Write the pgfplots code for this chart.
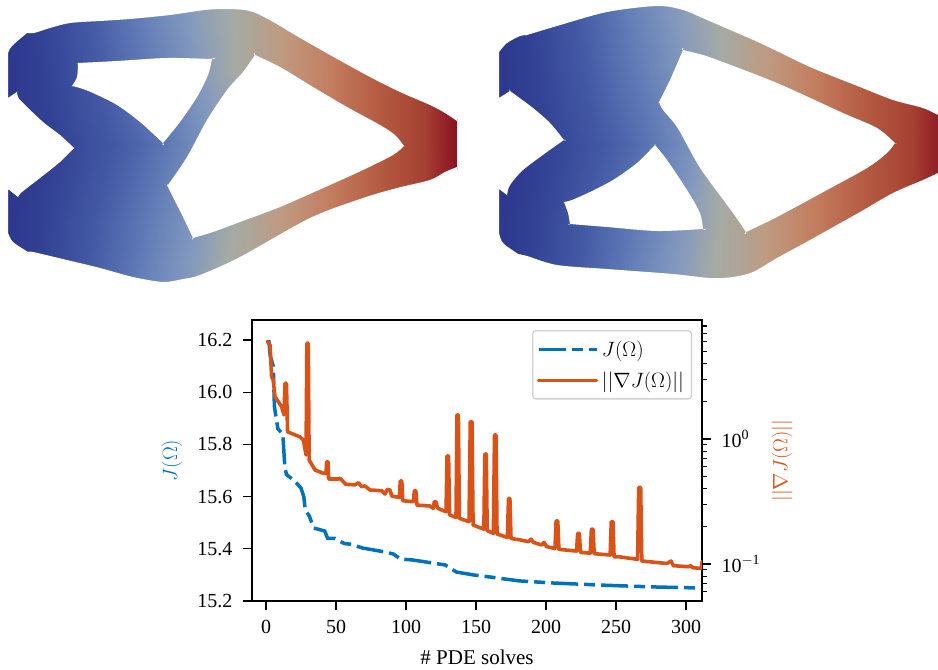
\documentclass[border=0pt]{standalone}
\usepackage{fontspec}
\setmainfont{Liberation Serif}
\usepackage{pgfplots}
\pgfplotsset{compat=1.18}
\definecolor{jblue}{HTML}{0072BD}
\definecolor{jorange}{HTML}{D95319}
\begin{document}
\begin{tikzpicture}[x=1pt,y=1pt]
\useasboundingbox (0,0) rectangle (938pt,670pt);
% the two optimised shapes, in pixel coordinates
\begin{axis}[at={(0pt,0pt)},anchor=south west,scale only axis,width=938pt,height=670pt,
  xmin=0,xmax=938,ymin=0,ymax=670,y dir=reverse,axis lines=none,clip=false,
  colormap={field}{rgb(0pt)=(.169,.212,.549); rgb(8pt)=(.169,.212,.549); rgb(50pt)=(.204,.263,.588); rgb(100pt)=(.267,.353,.647); rgb(150pt)=(.373,.478,.714); rgb(200pt)=(.51,.596,.745); rgb(235pt)=(.647,.667,.647); rgb(280pt)=(.745,.608,.51); rgb(330pt)=(.765,.49,.373); rgb(380pt)=(.706,.353,.255); rgb(420pt)=(.647,.255,.196); rgb(457pt)=(.53,.04,.118)},
  point meta min=0,point meta max=457]
\addplot[surf,shader=interp,mesh/cols=8,point meta=explicit,forget plot] table[meta=c] {
x y c
4 -2 8
50 -2 60
100 -2 115
150 -2 170
200 -2 215
250 -2 250
350 -2 350
462 -2 457
4 70 8
50 70 52
100 70 103
150 70 154
200 70 203
250 70 250
350 70 350
462 70 457
4 145 8
50 145 40
100 145 85
150 145 130
200 145 185
250 145 250
350 145 350
462 145 457
4 220 8
50 220 52
100 220 103
150 220 154
200 220 203
250 220 250
350 220 350
462 220 457
4 297 8
50 297 60
100 297 115
150 297 170
200 297 215
250 297 250
350 297 350
462 297 457
};
\addplot[surf,shader=interp,mesh/cols=8,point meta=explicit,forget plot] table[meta=c] {
x y c
494 -2 8
540 -2 60
589 -2 115
638 -2 170
687 -2 215
736 -2 250
834 -2 350
943 -2 448
494 70 8
540 70 52
589 70 103
638 70 154
687 70 203
736 70 250
834 70 350
943 70 448
494 145 8
540 145 40
589 145 85
638 145 130
687 145 185
736 145 250
834 145 350
943 145 448
494 220 8
540 220 52
589 220 103
638 220 154
687 220 203
736 220 250
834 220 350
943 220 448
494 297 8
540 297 60
589 297 115
638 297 170
687 297 215
736 297 250
834 297 350
943 297 448
};
% white outside the first shape
\addplot[fill=white,draw=none,even odd rule,forget plot,smooth,tension=0.5] coordinates {
(8,53)(8,53)(12,46)(27,33)(27,33)(34,33)(50,28)(70,23)(100,21)(130,19)(170,15)(205,10)(225,9)(245,10)(258,14)(275,23)(295,35)(330,55)(370,77)(400,92)(430,105)(445,113)(457,121)(457,121)(457,167)(457,167)(445,172)(430,180)(397,188)(363,198)(310,218)(240,257)(200,275)(183,279)(163,282)(133,277)(100,268)(67,260)(33,252)(28,252)(28,252)(13,242)(8,233)(8,233)(8,189)(8,189)(18,197)(18,197)(22,192)(40,178)(60,162)(74,148)(74,148)(60,135)(43,122)(23,103)(18,97)(17,92)(17,92)(8,98)(8,98)} -- cycle (axis cs:0,-4) rectangle (axis cs:470,299);
\addplot[fill=white,draw=none,forget plot,smooth,tension=0.5] coordinates {
(78,63)(78,63)(117,61)(167,58)(212,59)(212,59)(208,75)(197,97)(180,122)(163,143)(163,143)(140,122)(117,105)(93,93)(80,88)(72,86)(72,86)(77,77)(78,63)(78,63)} -- cycle;
\addplot[fill=white,draw=none,forget plot,smooth,tension=0.5] coordinates {
(168,185)(168,185)(187,157)(207,120)(227,90)(243,72)(255,55)(255,55)(280,67)(313,87)(347,107)(380,125)(395,135)(404,146)(404,146)(393,155)(363,170)(330,185)(280,207)(240,222)(213,232)(193,238)(193,238)(183,217)(168,187)(168,185)} -- cycle;
% white outside the second shape
\addplot[fill=white,draw=none,even odd rule,forget plot,smooth,tension=0.5] coordinates {
(499,52)(499,52)(507,43)(520,36)(527,35)(527,35)(557,26)(607,12)(657,6)(683,10)(707,20)(760,43)(810,67)(860,87)(893,100)(923,108)(938,115)(938,115)(938,173)(938,173)(923,180)(893,193)(860,212)(810,240)(777,258)(753,272)(733,277)(710,278)(673,274)(607,269)(557,265)(527,256)(518,254)(518,254)(503,243)(499,233)(499,233)(499,189)(499,189)(507,195)(507,195)(510,185)(523,170)(547,152)(564,140)(564,140)(550,123)(533,108)(510,91)(510,91)(499,98)(499,98)} -- cycle (axis cs:485,-4) rectangle (axis cs:948,299);
\addplot[fill=white,draw=none,forget plot,smooth,tension=0.5] coordinates {
(659,102)(659,102)(670,80)(683,50)(683,50)(703,55)(720,61)(777,83)(843,113)(877,128)(895,143)(895,143)(887,153)(867,168)(827,190)(777,217)(746,232)(746,232)(733,213)(710,182)(697,163)(677,127)(663,110)(659,102)(659,102)} -- cycle;
\addplot[fill=white,draw=none,forget plot,smooth,tension=0.5] coordinates {
(655,145)(655,145)(637,163)(613,180)(590,192)(572,200)(564,202)(564,202)(568,213)(570,224)(570,224)(607,227)(657,231)(703,229)(703,229)(700,213)(687,190)(667,160)(655,145)(655,145)} -- cycle;
\end{axis}
% J on the left axis
\begin{axis}[at={(252pt,69pt)},anchor=south west,scale only axis,width=450pt,height=281pt,
  xmin=-10,xmax=311.4,ymin=15.2,ymax=16.277,
  xtick={0,50,...,300},ytick={15.2,15.4,...,16.2},
  xtick pos=bottom,ytick pos=left,
  /pgf/number format/assume math mode=true,
  yticklabel style={xshift=-7pt,/pgf/number format/fixed,/pgf/number format/fixed zerofill,/pgf/number format/precision=1},
  axis line style={line width=1.6pt},
  tick style={line width=1.2pt,black},major tick length=9pt,tick align=outside,
  ticklabel style={font=\fontsize{20}{23}\selectfont},
  xticklabel style={yshift=-7pt},
  xlabel={\# PDE solves},
  xlabel style={font=\fontsize{21}{24}\selectfont,at={(axis description cs:0.5,-0.2)},anchor=center},
  ylabel={$J(\Omega)$},
  ylabel style={font=\fontsize{22}{24}\selectfont,text=jblue,at={(axis description cs:-0.178,0.5)},anchor=center},
  ]
\addplot[jblue,line width=3.5pt,dash pattern=on 27pt off 6pt on 11pt off 6pt] coordinates {
(2,16.2)(3,16.14)(5.2,16.10)(6,15.945)(7,15.91)(8.5,15.86)(12,15.84)(13.5,15.71)(14.7,15.684)(20.5,15.66)(25,15.633)(27,15.60)(28,15.55)(31,15.525)(34,15.48)(42,15.468)(44,15.44)(49,15.44)(56,15.42)(60,15.418)(69,15.403)(85,15.388)(91,15.38)(96,15.361)(105,15.357)(118.5,15.346)(128,15.338)(136,15.311)(148,15.30)(160,15.292)(171,15.284)(181,15.277)(205,15.269)(239,15.261)(276,15.254)(308,15.25)};
\end{axis}
% gradient norm on the right axis
\begin{axis}[at={(252pt,69pt)},anchor=south west,scale only axis,width=450pt,height=281pt,
  xmin=-10,xmax=311.4,ymode=log,ymin=0.0506,ymax=8.95,
  hide x axis,ytick pos=right,yticklabel pos=right,
  ytick={0.1,1},yticklabels={10\textsuperscript{$-$1},10\textsuperscript{0}},
  minor ytick={0.06,0.07,0.08,0.09,0.2,0.3,0.4,0.5,0.6,0.7,0.8,0.9,2,3,4,5,6,7,8},
  axis line style={line width=1.6pt},
  tick style={line width=1.2pt,black},major tick length=9pt,minor tick length=5pt,tick align=outside,
  ticklabel style={font=\fontsize{20}{23}\selectfont},
  yticklabel style={xshift=7pt},
  ylabel={$||\nabla J(\Omega)||$},
  ylabel style={font=\fontsize{22}{24}\selectfont,text=jorange,at={(axis description cs:1.178,0.5)},anchor=center},
  legend style={at={(rel axis cs:0.978,0.964)},anchor=north east,draw=black!18,line width=1.3pt,rounded corners=3pt,
    font=\fontsize{22}{26}\selectfont,inner xsep=4pt,inner ysep=8pt,row sep=10pt,
    nodes={inner xsep=3.5pt}},
  legend cell align=left,
  legend image code/.code={\draw[#1] (0pt,0pt) -- (46pt,0pt);\path (0pt,0pt) -- (58pt,0pt);},
  ]
\addlegendimage{jblue,line width=3.5pt,dash pattern=on 27pt off 6pt on 11pt off 6pt}
\addlegendentry{$J(\Omega)$}
\addplot[jorange,line width=3.6pt,line join=round,line cap=round] coordinates {
(1,6.0)(2.9,5.65)(4,3.15)(5.2,2.96)(6.4,2.18)(11.2,1.81)(12.8,1.56)(13.6,2.79)(14.6,2.79)(15.4,1.14)(24.3,1.04)(26.7,0.98)(28.6,0.745)(29.2,5.83)(30.2,5.83)(30.8,0.68)(35,0.565)(41,0.532)(42.9,0.532)(43.3,0.658)(44.3,0.658)(44.7,0.479)(51.7,0.479)(52.9,0.485)(57,0.434)(63.6,0.43)(66,0.447)(68.3,0.416)(70.7,0.421)(74.3,0.391)(82.6,0.386)(85,0.363)(86.7,0.396)(88.6,0.39)(89.8,0.35)(95.2,0.341)(95.9,0.461)(97,0.461)(97.7,0.321)(105.2,0.315)(106,0.386)(107,0.386)(107.8,0.296)(117,0.291)(119.5,0.279)(120.2,0.315)(121.4,0.315)(122.6,0.279)(128.6,0.262)(129.3,0.731)(130.4,0.731)(131.1,0.247)(135.7,0.236)(136.4,1.556)(137.4,1.556)(138.1,0.232)(145,0.218)(145.9,1.375)(147.1,1.375)(147.9,0.205)(155.6,0.19)(156.3,0.759)(157.3,0.759)(158,0.185)(162.4,0.176)(163.2,1.076)(164.3,1.076)(165,0.174)(172.4,0.163)(173.2,0.335)(174.2,0.335)(175,0.16)(181.4,0.156)(187.4,0.151)(189.3,0.158)(191,0.149)(196.9,0.142)(198.5,0.149)(200.4,0.138)(206.4,0.133)(207.2,0.221)(208.4,0.221)(209.2,0.131)(221.8,0.127)(222.6,0.176)(223.8,0.176)(224.6,0.124)(231.6,0.122)(232.4,0.19)(233.6,0.19)(234.4,0.121)(245.8,0.118)(246.6,0.218)(247.8,0.218)(248.6,0.114)(252.8,0.114)(265.4,0.109)(266.2,0.41)(267.6,0.41)(268.4,0.1057)(286.2,0.101)(289.3,0.1057)(290.9,0.097)(301.6,0.0951)(303.3,0.097)(305,0.0933)(310,0.0925)(311,0.0925)(311.5,0.105)};
\addlegendentry{$||\nabla J(\Omega)||$}
\end{axis}
\end{tikzpicture}
\end{document}
